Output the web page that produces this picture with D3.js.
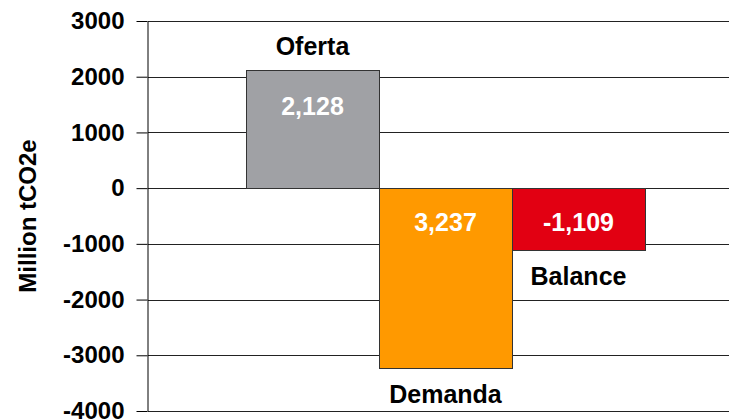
<!DOCTYPE html>
<html>
  <head>
    <meta charset="UTF-8">
    <title>Oferta / Demanda / Balance</title>
    <style type="text/css">
      body { margin: 0; background-color: #fff; }
      svg { display: block; font-family: "Liberation Sans", Arial, sans-serif; font-weight: bold; }
      .grid line { stroke: #222; stroke-width: 1px; }
      .axis path, .axis line { stroke: #000; }
      .axis text { fill: #000; font-size: 24px; font-weight: bold; }
      .bar { stroke: #333; stroke-width: 1px; }
      .valueLabel { fill: #fff; font-size: 25px; text-anchor: middle; }
      .catLabel { fill: #000; font-size: 25px; text-anchor: middle; }
    </style>
    <script src="https://cdn.jsdelivr.net/npm/d3@7"></script>
  </head>
  <body>
    <div id="chart"></div>
    <script type="text/javascript">

      var categories = ["Oferta", "Demanda", "Balance"];
      var values = [2128, -3237, -1109];
      var valueLabels = ["2,128", "3,237", "-1,109"];
      var colors = ["#a0a1a5", "#ff9900", "#e20012"];
      var yTicks = [3000, 2000, 1000, 0, -1000, -2000, -3000, -4000];

      var width = 729, height = 420;
      var plotLeft = 148, plotTop = 21, plotBottom = 411;

      var svg = d3.select("#chart")
        .append("svg")
        .attr("width", width)
        .attr("height", height);

      var yScale = d3.scaleLinear().domain([-4000, 3000]).range([plotBottom, plotTop]);
      var xScale = d3.scaleBand().domain(categories).range([246, 645]).padding(0);

      // gridlines run to the right edge
      svg.append("g").attr("class", "grid")
        .selectAll("line")
        .data(yTicks)
        .enter()
        .append("line")
        .attr("x1", plotLeft)
        .attr("x2", width)
        .attr("y1", function(d) { return Math.round(yScale(d)) + 0.5; })
        .attr("y2", function(d) { return Math.round(yScale(d)) + 0.5; });

      var yAxis = d3.axisLeft(yScale)
        .tickValues(yTicks)
        .tickFormat(function(d) { return String(d); })
        .tickSize(11).tickPadding(12).tickSizeOuter(0);
      svg.append("g").attr("class", "axis")
        .attr("transform", "translate(" + (plotLeft - 0.5) + ",0)")
        .call(yAxis);

      svg.selectAll(".bar")
        .data(values)
        .enter()
        .append("rect")
        .attr("class", "bar")
        .attr("x", function(d, i) { return xScale(categories[i]) + 0.5; })
        .attr("width", xScale.bandwidth())
        .attr("y", function(d) { return Math.round(yScale(Math.max(0, d))) + 0.5; })
        .attr("height", function(d) { return Math.abs(Math.round(yScale(d)) - Math.round(yScale(0))); })
        .attr("fill", function(d, i) { return colors[i]; });

      // value labels sit inside the bar, category labels outside its end
      svg.selectAll(".valueLabel")
        .data(values)
        .enter()
        .append("text")
        .attr("class", "valueLabel")
        .attr("x", function(d, i) { return xScale(categories[i]) + xScale.bandwidth() / 2; })
        .attr("y", function(d) { return d > 0 ? yScale(d) + 45 : yScale(0) + 43; })
        .text(function(d, i) { return valueLabels[i]; });

      svg.selectAll(".catLabel")
        .data(values)
        .enter()
        .append("text")
        .attr("class", "catLabel")
        .attr("x", function(d, i) { return xScale(categories[i]) + xScale.bandwidth() / 2; })
        .attr("y", function(d) { return d > 0 ? yScale(d) - 15 : yScale(d) + 35; })
        .text(function(d, i) { return categories[i]; });

      svg.append("text")
        .attr("transform", "translate(36," + yScale(-500) + ") rotate(-90)")
        .attr("text-anchor", "middle")
        .style("font-size", "24px")
        .text("Million tCO2e");

    </script>
  </body>
</html>
